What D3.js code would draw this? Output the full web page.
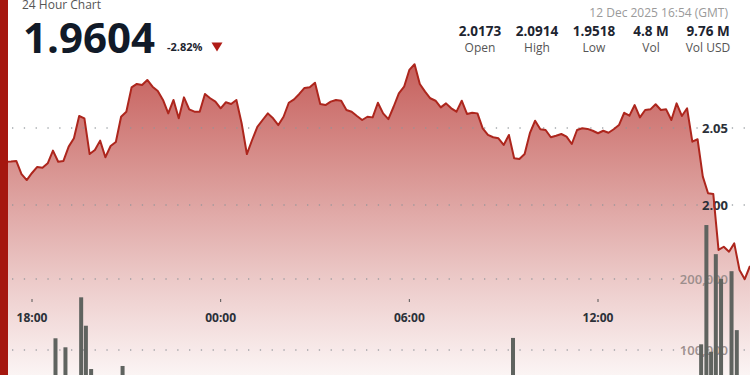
<!DOCTYPE html>
<html><head><meta charset="utf-8">
<script src="https://cdn.jsdelivr.net/npm/d3@7"></script>
<style>html,body{margin:0;padding:0;background:#fff;overflow:hidden}svg{display:block;font-family:"Open Sans",sans-serif}</style>
</head><body><div id="chart"></div>
<script>
// ---------- data ----------
const priceStart = "2025-12-11 17:00";   // first 10-minute sample
const priceStepMinutes = 10;
const prices = [
2.0279,2.0281,2.0282,2.0286,2.0201,2.0162,2.0208,2.0247,2.0242,2.0271,
2.0353,2.0281,2.0286,2.0379,2.0433,2.0578,2.0563,2.0331,2.0357,2.0418,
2.0310,2.0383,2.0409,2.0573,2.0606,2.0764,2.0786,2.0779,2.0812,2.0768,
2.0740,2.0682,2.0595,2.0682,2.0563,2.0699,2.0621,2.0606,2.0606,2.0721,
2.0693,2.0671,2.0628,2.0667,2.0656,2.0682,2.0531,2.0331,2.0422,2.0508,
2.0552,2.0595,2.0563,2.0519,2.0573,2.0664,2.0686,2.0721,2.0760,2.0764,
2.0794,2.0656,2.0649,2.0671,2.0682,2.0677,2.0617,2.0606,2.0578,2.0552,
2.0573,2.0569,2.0664,2.0595,2.0558,2.0638,2.0725,2.0768,2.0877,2.0914,
2.0786,2.0736,2.0693,2.0677,2.0634,2.0660,2.0628,2.0606,2.0677,2.0591,
2.0599,2.0595,2.0498,2.0455,2.0440,2.0433,2.0390,2.0455,2.0303,2.0299,
2.0331,2.0466,2.0547,2.0492,2.0487,2.0440,2.0450,2.0461,2.0444,2.0396,
2.0487,2.0498,2.0494,2.0482,2.0466,2.0482,2.0469,2.0492,2.0519,2.0599,
2.0580,2.0649,2.0569,2.0617,2.0621,2.0654,2.0617,2.0621,2.0552,2.0660,
2.0578,2.0628,2.0411,2.0427,2.0184,2.0076,2.0071,1.9708,1.9729,1.9697,
1.9751,1.9578,1.9518,1.9604
];
const volTimes = ["2025-12-11 18:41","2025-12-11 19:00","2025-12-11 19:30","2025-12-11 19:39",
  "2025-12-11 19:49","2025-12-11 20:49","2025-12-12 09:14","2025-12-12 15:13","2025-12-12 15:23",
  "2025-12-12 15:32","2025-12-12 15:41","2025-12-12 15:51","2025-12-12 16:11","2025-12-12 16:21"];
const volumes = [116500,103800,174200,134200,73200,77500,117000,108000,276000,97600,235000,200000,211000,128000];
const xTicks = ["2025-12-11 18:00","2025-12-12 00:00","2025-12-12 06:00","2025-12-12 12:00"];
const priceTicks = [2.00, 2.05];
const volTicks = [100000, 200000];
const statValues = ["2.0173","2.0914","1.9518","4.8 M","9.76 M"];
const statLabels = ["Open","High","Low","Vol","Vol USD"];
const lastPrice = "1.9604", changePct = "-2.82%";
const title = "24 Hour Chart", stamp = "12 Dec 2025 16:54 (GMT)";

// ---------- setup ----------
const W = 750, H = 375;
const parse = d3.timeParse("%Y-%m-%d %H:%M");
const t0 = parse(priceStart);
const series = prices.map((p, i) => ({t: d3.timeMinute.offset(t0, i * priceStepMinutes), p}));
const vols = volTimes.map((s, i) => ({t: parse(s), v: volumes[i]}));

const svg = d3.select("#chart").append("svg").attr("width", W).attr("height", H);

const x = d3.scaleTime().domain([parse(xTicks[0]), parse(xTicks[3])]).range([32, 598]);
const y = d3.scaleLinear().domain([2.00, 2.05]).range([205, 128]);
const yv = d3.scaleLinear().domain([100000, 200000]).range([350, 279]);

const defs = svg.append("defs");
const g = defs.append("linearGradient").attr("id", "ag").attr("gradientUnits", "userSpaceOnUse")
  .attr("x1", 0).attr("x2", 0).attr("y1", 64).attr("y2", H);
[[0, 0.74], [0.45, 0.42], [0.69, 0.25], [0.92, 0.1], [1, 0.05]].forEach(([o, a]) =>
  g.append("stop").attr("offset", o).attr("stop-color", "rgb(178,40,35)").attr("stop-opacity", a));

// area
svg.append("path").datum(series)
  .attr("d", d3.area().x(d => x(d.t)).y0(H + 5).y1(d => y(d.p)))
  .attr("fill", "url(#ag)");

// dotted gridlines
const gridYs = priceTicks.map(v => y(v)).concat(volTicks.map(v => yv(v)));
svg.append("g").selectAll("line").data(gridYs).join("line")
  .attr("x1", 12).attr("x2", W).attr("y1", d => d).attr("y2", d => d)
  .attr("stroke", "#8f9499").attr("stroke-width", 1.3).attr("stroke-dasharray", "1.3 10.5")
  .attr("opacity", 0.8);

// volume labels (behind bars)
svg.append("g").selectAll("text").data(volTicks).join("text")
  .attr("x", 728).attr("y", d => yv(d)).attr("dy", "0.35em").attr("text-anchor", "end")
  .attr("font-size", 13).attr("font-weight", 600).attr("fill", "#9c8e8c")
  .text(d => d3.format(",")(d));

// volume bars
svg.append("g").selectAll("rect").data(vols).join("rect")
  .attr("x", d => x(d.t)).attr("width", 4)
  .attr("y", d => yv(d.v)).attr("height", d => H + 50 - yv(d.v))
  .attr("fill", "#5f635f");

// price labels
svg.append("g").selectAll("text").data(priceTicks).join("text")
  .attr("x", 728).attr("y", d => y(d)).attr("dy", "0.35em").attr("text-anchor", "end")
  .attr("font-size", 13).attr("font-weight", 700).attr("fill", "#2b3038")
  .text(d => d3.format(".2f")(d));

// price line
svg.append("path").datum(series)
  .attr("d", d3.line().x(d => x(d.t)).y(d => y(d.p)))
  .attr("fill", "none").attr("stroke", "#ad261d").attr("stroke-width", 2)
  .attr("stroke-linejoin", "round");

// x axis ticks + labels
const xt = svg.append("g").selectAll("g").data(xTicks.map(parse)).join("g")
  .attr("transform", d => `translate(${x(d)},0)`);
xt.append("line").attr("y1", 299).attr("y2", 302).attr("stroke", "#555").attr("stroke-width", 1);
xt.append("text").attr("y", 318).attr("dy", "0.35em").attr("text-anchor", "middle")
  .attr("font-size", 12).attr("font-weight", 700).attr("fill", "#2b3038")
  .text(d3.timeFormat("%H:%M"));

// left accent bar
svg.append("rect").attr("x", 0).attr("y", 0).attr("width", 8).attr("height", H).attr("fill", "#a5170f");

// header
svg.append("text").attr("x", 22).attr("y", 9).attr("font-size", 12).attr("fill", "#555").text(title);
svg.append("text").attr("x", 23).attr("y", 53).attr("font-size", 42).attr("font-weight", 700)
  .attr("fill", "#111a28").text(lastPrice);
svg.append("text").attr("x", 167).attr("y", 51).attr("font-size", 11).attr("font-weight", 700)
  .attr("fill", "#1d2430").text(changePct);
svg.append("path").attr("d", "M211.5,42.5 L222.5,42.5 L217,51.5 Z").attr("fill", "#b01c16");

svg.append("text").attr("x", 728).attr("y", 17).attr("text-anchor", "end").attr("font-size", 12)
  .attr("fill", "#9a9a9a").text(stamp);
const centers = [480, 537, 594, 651, 708];
svg.append("g").selectAll("text").data(statValues).join("text")
  .attr("x", (d, i) => centers[i]).attr("y", 35.5).attr("text-anchor", "middle")
  .attr("font-size", 13.5).attr("font-weight", 700).attr("fill", "#1d2430").text(d => d);
svg.append("g").selectAll("text").data(statLabels).join("text")
  .attr("x", (d, i) => centers[i]).attr("y", 51.5).attr("text-anchor", "middle")
  .attr("font-size", 12).attr("fill", "#555").text(d => d);
</script></body></html>
